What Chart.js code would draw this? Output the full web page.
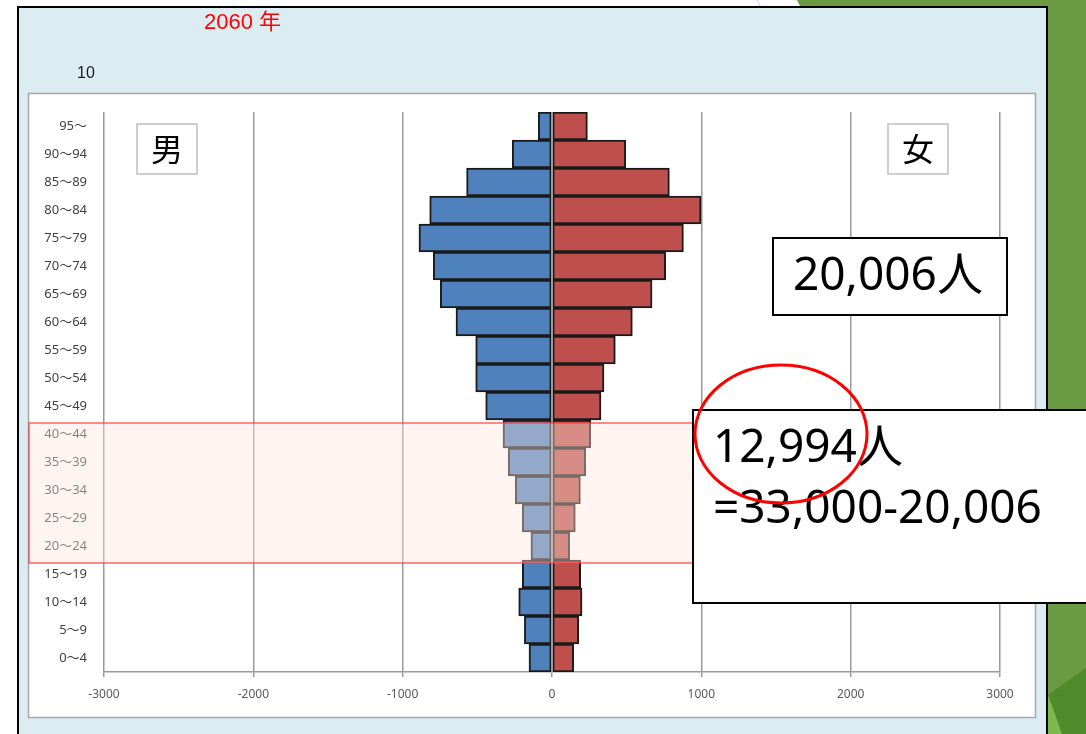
<!DOCTYPE html>
<html lang="ja">
<head>
<meta charset="utf-8">
<script src="https://cdn.jsdelivr.net/npm/chart.js@4/dist/chart.umd.min.js"></script>
<style>
  html, body { margin: 0; padding: 0; background: #fff; }
  #wrap { width: 1086px; height: 734px; position: relative; }
</style>
</head>
<body>
<div id="wrap"><canvas id="pyramid" width="1086" height="734"></canvas></div>
<script>
// datos (de arriba a abajo)
const ageGroups = ["95～", "90～94", "85～89", "80～84", "75～79", "70～74", "65～69", "60～64",
  "55～59", "50～54", "45～49", "40～44", "35～39", "30～34", "25～29", "20～24",
  "15～19", "10～14", "5～9", "0～4"];
const male = [-92, -266, -572, -819, -891, -795, -748, -643, -511, -511, -444,
  -328, -293, -246, -199, -141, -199, -223, -185, -154];
const female = [237, 494, 786, 998, 880, 761, 670, 538, 424, 348, 328,
  259, 226, 190, 156, 118, 192, 201, 179, 145];
const xTicks = [-3000, -2000, -1000, 0, 1000, 2000, 3000];
const highlighted = ["40～44", "35～39", "30～34", "25～29", "20～24"];

const yearLabel = "2060 年";
const unitLabel = "10";
const maleLabel = "男";
const femaleLabel = "女";
const totalText = "20,006人";
const diffText = ["12,994人", "=33,000-20,006"];

const ctx = document.getElementById("pyramid").getContext("2d");

// fondo: diapositiva, panel azul y panel blanco
const backgroundPlugin = {
  id: "background",
  beforeDraw(chart) {
    const c = chart.ctx;
    c.save();
    c.fillStyle = "#ffffff";
    c.fillRect(0, 0, chart.width, chart.height);

    c.fillStyle = "#6b9a44";
    c.beginPath();
    c.moveTo(797, 0); c.lineTo(1086, 0); c.lineTo(1086, 734);
    c.lineTo(1047, 734); c.lineTo(1047, 8); c.lineTo(801, 8);
    c.closePath(); c.fill();
    c.fillStyle = "#4f8a2b";
    c.beginPath();
    c.moveTo(1048, 695); c.lineTo(1086, 668); c.lineTo(1086, 734); c.lineTo(1062, 734);
    c.closePath(); c.fill();
    c.fillStyle = "#7cb84b";
    c.beginPath();
    c.moveTo(1048, 695); c.lineTo(1062, 734); c.lineTo(1048, 734);
    c.closePath(); c.fill();
    c.strokeStyle = "#cfcfcf";
    c.lineWidth = 1;
    c.beginPath(); c.moveTo(757, 0); c.lineTo(761, 7); c.stroke();

    c.fillStyle = "#dbedf3";
    c.fillRect(18, 7, 1029, 740);
    c.strokeStyle = "#000000";
    c.lineWidth = 2;
    c.strokeRect(18, 7, 1029, 740);

    c.fillStyle = "#ffffff";
    c.fillRect(28, 93, 1008, 625);
    c.strokeStyle = "#a6a6a6";
    c.lineWidth = 1.5;
    c.strokeRect(28.5, 93.5, 1007, 624);

    c.textBaseline = "middle";
    c.fillStyle = "#ff0000";
    c.font = '22px "Liberation Sans", "Noto Sans CJK JP"';
    c.fillText(yearLabel, 204, 23);
    c.fillStyle = "#1a1a1a";
    c.font = '16px "Liberation Sans"';
    c.fillText(unitLabel, 77, 74);
    c.restore();
  }
};

// línea gris del cero sobre las barras
const zeroLinePlugin = {
  id: "zeroLine",
  afterDatasetsDraw(chart) {
    const c = chart.ctx;
    const x = chart.scales.x.getPixelForValue(0);
    c.save();
    c.strokeStyle = "#9a9a9a";
    c.lineWidth = 2;
    c.beginPath();
    c.moveTo(x, chart.chartArea.top);
    c.lineTo(x, chart.chartArea.bottom);
    c.stroke();
    c.restore();
  }
};

function labelBox(c, text, x, y, w, h, border, borderWidth, font, tx, ty) {
  c.fillStyle = "#ffffff";
  c.fillRect(x, y, w, h);
  c.strokeStyle = border;
  c.lineWidth = borderWidth;
  c.strokeRect(x, y, w, h);
  if (text) {
    c.fillStyle = "#000000";
    c.font = font;
    c.textBaseline = "alphabetic";
    c.fillText(text, tx, ty);
  }
}

// anotaciones: franja resaltada, cuadros de texto y elipse
const annotationPlugin = {
  id: "annotations",
  afterDraw(chart) {
    const c = chart.ctx;
    const yScale = chart.scales.y;
    const step = yScale.getPixelForTick(1) - yScale.getPixelForTick(0);
    const first = ageGroups.indexOf(highlighted[0]);
    const last = ageGroups.indexOf(highlighted[highlighted.length - 1]);
    const top = yScale.getPixelForValue(first) - step / 2 + 3;
    const bottom = yScale.getPixelForValue(last) + step / 2 + 3;
    c.save();
    c.fillStyle = "rgba(253, 230, 220, 0.4)";
    c.fillRect(29, top, 700, bottom - top);
    c.strokeStyle = "rgba(255, 60, 60, 0.8)";
    c.lineWidth = 1.5;
    c.strokeRect(29, top, 700, bottom - top);

    const cjk = '"Noto Sans CJK JP", "Noto Sans"';
    labelBox(c, maleLabel, 137, 124, 60, 50, "#bfbfbf", 1.5, "32px " + cjk, 151, 161);
    labelBox(c, femaleLabel, 888, 124, 60, 50, "#bfbfbf", 1.5, "32px " + cjk, 902, 161);

    const big = '46px "Noto Sans", "Noto Sans CJK JP"';
    labelBox(c, totalText, 773, 238, 234, 77, "#000000", 2, big, 793, 290);
    labelBox(c, diffText[0], 693, 410, 400, 193, "#000000", 2, big, 713, 462);
    c.fillText(diffText[1], 713, 523);

    c.strokeStyle = "#ff0000";
    c.lineWidth = 3;
    c.beginPath();
    c.ellipse(781, 434, 86, 69, 0, 0, Math.PI * 2);
    c.stroke();
    c.restore();
  }
};

const pyramidChart = new Chart(ctx, {
  type: "bar",
  data: {
    labels: ageGroups,
    datasets: [
      {
        label: "男",
        data: male,
        backgroundColor: "#4f81bd",
        borderColor: "#1b1b1b",
        borderWidth: 2,
        borderSkipped: false,
        barPercentage: 1,
        categoryPercentage: 1,
      },
      {
        label: "女",
        data: female,
        backgroundColor: "#c0504d",
        borderColor: "#1b1b1b",
        borderWidth: 2,
        borderSkipped: false,
        barPercentage: 1,
        categoryPercentage: 1,
      },
    ],
  },
  options: {
    indexAxis: "y",
    responsive: false,
    animation: false,
    layout: { padding: { left: 28, right: 86, top: 112, bottom: 22 } },
    plugins: {
      legend: { display: false },
      tooltip: { enabled: false },
    },
    scales: {
      x: {
        stacked: true,
        min: xTicks[0],
        max: xTicks[xTicks.length - 1],
        afterBuildTicks: (scale) => {
          scale.ticks = xTicks.map((v) => ({ value: v }));
        },
        grid: { color: "#9a9a9a", lineWidth: 1.5, drawTicks: true, tickLength: 5 },
        border: { display: true, color: "#9a9a9a", width: 1.5 },
        ticks: {
          color: "#595959",
          font: { family: '"Noto Sans"', size: 12 },
          padding: 10,
          maxRotation: 0,
          callback: (value) => String(value),
        },
        afterFit: (scale) => { scale.height = 40; },
      },
      y: {
        stacked: true,
        grid: { display: false, drawTicks: false },
        border: { display: false },
        ticks: {
          color: "#404040",
          font: { family: '"Noto Sans", "Noto Sans CJK JP"', size: 13 },
          padding: 17,
          autoSkip: false,
        },
        afterFit: (scale) => { scale.width = 76; },
      },
    },
  },
  plugins: [backgroundPlugin, zeroLinePlugin, annotationPlugin],
});
</script>
</body>
</html>
